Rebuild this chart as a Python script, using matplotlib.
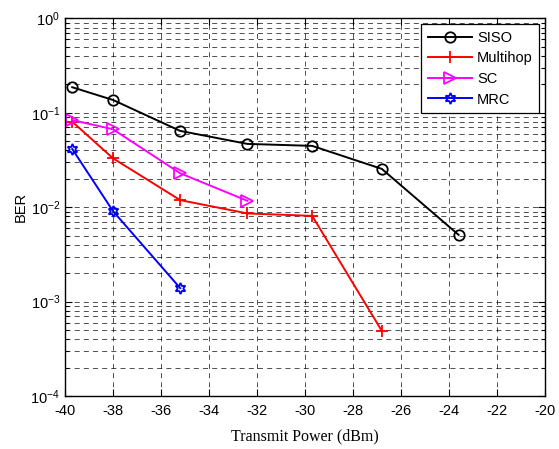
import matplotlib
matplotlib.use("Agg")
import matplotlib.pyplot as plt
from matplotlib.ticker import LogLocator, FixedLocator

plt.rcParams['font.family'] = ['Liberation Sans', 'DejaVu Sans']
plt.rcParams['mathtext.fontset'] = 'custom'
plt.rcParams['mathtext.rm'] = 'Liberation Sans'
plt.rcParams['mathtext.it'] = 'Liberation Sans:italic'
plt.rcParams['axes.unicode_minus'] = False

x_siso = [-39.7, -38.0, -35.2, -32.4, -29.7, -26.8, -23.6]
ber_siso = [0.187, 0.137, 0.0644, 0.0469, 0.0447, 0.0255, 0.0051]

x_multihop = [-39.7, -38.0, -35.2, -32.4, -29.7, -26.8]
ber_multihop = [0.0807, 0.033, 0.0119, 0.0086, 0.0081, 0.00049]

x_sc = [-39.7, -38.0, -35.2, -32.4]
ber_sc = [0.084, 0.067, 0.0229, 0.0117]

x_mrc = [-39.7, -38.0, -35.2]
ber_mrc = [0.0415, 0.0091, 0.00139]

xticks = [-40, -38, -36, -34, -32, -30, -28, -26, -24, -22, -20]

fig = plt.figure(figsize=(5.59, 4.49), dpi=100)
ax = fig.add_axes([65/559, 1-396/449, 480/559, (396-18.5)/449])

lw = 1.4
ax.plot(x_siso, ber_siso, color='black', lw=lw, marker='o', ms=7.5,
        mfc='none', mew=1.3, label='SISO')
ax.plot(x_multihop, ber_multihop, color='red', lw=lw, marker='+', ms=8,
        mew=1.3, label='Multihop')
ax.plot(x_sc, ber_sc, color='magenta', lw=lw, marker='>', ms=8,
        mfc='none', mew=1.3, label='SC')
ax.plot(x_mrc, ber_mrc, color='blue', lw=lw, marker=(6, 1, 0), ms=8,
        mfc='none', mew=1.3, label='MRC')

ax.set_yscale('log')
ax.set_xlim(-40, -20)
ax.set_ylim(1e-4, 1)
ax.xaxis.set_major_locator(FixedLocator(xticks))
ax.yaxis.set_major_locator(LogLocator(base=10, numticks=10))
ax.yaxis.set_minor_locator(LogLocator(base=10, subs=range(2, 10), numticks=20))
ax.yaxis.set_minor_formatter(matplotlib.ticker.NullFormatter())

ax.grid(True, which='major', axis='both', color='black', ls=(0, (6, 5)), lw=0.6, alpha=0.8)
ax.grid(True, which='minor', axis='y', color='black', ls=(0, (6, 5)), lw=0.6, alpha=0.8)

ax.tick_params(which='both', direction='in', top=True, right=True, labelsize=10.5, colors='black')
ax.tick_params(which='major', length=5, width=0.8)
ax.tick_params(axis='x', which='major', pad=6)
ax.tick_params(which='minor', length=3, width=0.8)
for s in ax.spines.values():
    s.set_linewidth(1.0)

ax.set_xlabel('Transmit Power (dBm)', family=['Liberation Serif', 'DejaVu Serif'], fontsize=11.5, labelpad=7)
ax.set_ylabel('BER', fontsize=10.5, labelpad=2)

leg = ax.legend(loc='upper right', fontsize=10.5, fancybox=False, framealpha=1,
                edgecolor='black', borderaxespad=0.4, handlelength=3.0,
                handletextpad=0.35, labelspacing=0.45, borderpad=0.45)
leg.get_frame().set_linewidth(0.9)

fig.savefig('out.png', dpi=100)
